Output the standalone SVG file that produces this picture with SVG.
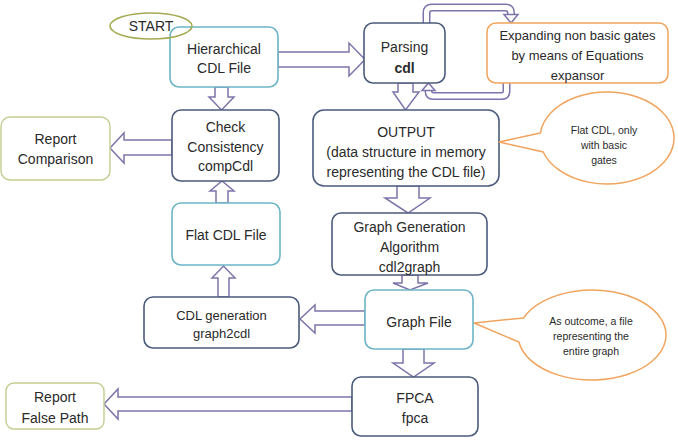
<svg xmlns="http://www.w3.org/2000/svg" width="678" height="440" viewBox="0 0 678 440">
<defs>
<style>
.box{fill:#fff;stroke:#4a5b7b;stroke-width:1.6}
.teal{fill:#fff;stroke:#6bb5c6;stroke-width:1.6}
.olive{fill:#fff;stroke:#c6cc90;stroke-width:1.4}
.orange{fill:#fff;stroke:#f0a45e;stroke-width:1.5}
.arr{fill:#fff;stroke:#7f74aa;stroke-width:1.5;stroke-linejoin:miter}
.loopo{fill:none;stroke:#7f74aa;stroke-width:8}
.loopi{fill:none;stroke:#fff;stroke-width:5}
text{font-family:"Liberation Sans",Arial,sans-serif;fill:#2a2a2a;text-anchor:middle}
.t14{font-size:14px}
.t13{font-size:13px}
.t11{font-size:10.5px}
</style>
</defs>
<rect width="678" height="440" fill="#fff"/>
<g id="connectors">
<polygon class="arr" points="278,52 349,52 349,43 365,59.5 349,76 349,67 278,67"/>
<polygon class="arr" points="215,87 228,87 228,97 234,97 221.5,110 209,97 215,97"/>
<polygon class="arr" points="172,140 124,140 124,133 110,148 124,163 124,155 172,155"/>
<polygon class="arr" points="216,203 216,191 210,191 222,181 234,191 228,191 228,203"/>
<polygon class="arr" points="218,297 218,278 212,278 223.5,266 235,278 229,278 229,297"/>
<polygon class="arr" points="365,311 315,311 315,305 300,319 315,333 315,325 365,325"/>
<polygon class="arr" points="398,83 413,83 413,92 419,92 405.5,110 393,92 398,92"/>
<polygon class="arr" points="397,186 419,186 419,198 430,198 408,213 385,198 397,198"/>
<polygon class="arr" points="402,275 418,275 418,283 428,283 410,290 393,283 402,283"/>
<polygon class="arr" points="403,349 424,349 424,363 434,363 413.5,377 393,363 403,363"/>
<polygon class="arr" points="352,397 118,397 118,389 104,404 118,419 118,411 352,411"/>
<path class="loopo" d="M426.5 23 V13 Q426.5 7.5 432 7.5 H505.5 Q511 7.5 511 13 V15"/>
<path class="loopi" d="M426.5 23 V13 Q426.5 7.5 432 7.5 H505.5 Q511 7.5 511 13 V16"/>
<polygon class="arr" points="504,14.5 518,14.5 511,23"/>
<path class="loopo" d="M506.5 83 V91 Q506.5 96 501.5 96 H433.5 Q428.5 96 428.5 91 V90"/>
<path class="loopi" d="M506.5 83 V91 Q506.5 96 501.5 96 H433.5 Q428.5 96 428.5 91 V89"/>
<polygon class="arr" points="422,90.5 435,90.5 428.5,83"/>
</g>
<g id="hierarchical">
<rect class="teal" x="170" y="27" width="108" height="60" rx="9"/>
<text class="t14" x="224" y="54">Hierarchical</text>
<text class="t14" x="224" y="73">CDL File</text>
</g>
<g id="start">
<ellipse cx="151" cy="26" rx="41" ry="13" fill="none" stroke="#a4aa50" stroke-width="1.6"/>
<text class="t14" x="151" y="31">START</text>
</g>
<g id="parsing">
<rect class="box" x="364" y="23" width="81" height="60" rx="9"/>
<text class="t14" x="404.5" y="52">Parsing</text>
<text class="t14" x="404.5" y="73" font-weight="bold">cdl</text>
</g>
<g id="expanding">
<rect class="orange" x="487" y="23" width="181" height="60" rx="9"/>
<text class="t13" x="577.5" y="39.5">Expanding non basic gates</text>
<text class="t13" x="577.5" y="59.5">by means of Equations</text>
<text class="t13" x="577.5" y="79.5">expansor</text>
</g>
<g id="check">
<rect class="box" x="172" y="110" width="107" height="71" rx="9"/>
<text class="t14" x="225.5" y="132">Check</text>
<text class="t14" x="225.5" y="152">Consistency</text>
<text class="t14" x="225.5" y="171">compCdl</text>
</g>
<g id="report-comparison">
<rect class="olive" x="1" y="117" width="109" height="63" rx="9"/>
<text class="t14" x="55.5" y="144">Report</text>
<text class="t14" x="55.5" y="164">Comparison</text>
</g>
<g id="output">
<rect class="box" x="313" y="110" width="186" height="76" rx="11"/>
<text class="t14" x="406" y="137">OUTPUT</text>
<text class="t14" x="406" y="157">(data structure in memory</text>
<text class="t14" x="406" y="177">representing the CDL file)</text>
</g>
<g id="callout-flat">
<path class="orange" d="M540.4 133 L499 142 L543.2 152 A67 46 0 1 0 540.4 133 Z"/>
<text class="t11" x="604" y="134">Flat CDL, only</text>
<text class="t11" x="604" y="149">with basic</text>
<text class="t11" x="604" y="164">gates</text>
</g>
<g id="flat-cdl">
<rect class="teal" x="172" y="203" width="108" height="62" rx="9"/>
<text class="t14" x="226" y="240">Flat CDL File</text>
</g>
<g id="graph-generation">
<rect class="box" x="332" y="213" width="155" height="62" rx="9"/>
<text class="t14" x="409.5" y="232">Graph Generation</text>
<text class="t14" x="409.5" y="252">Algorithm</text>
<text class="t14" x="409.5" y="272">cdl2graph</text>
</g>
<g id="cdl-generation">
<rect class="box" x="144" y="297" width="155" height="51" rx="9"/>
<text class="t13" x="221.5" y="320">CDL generation</text>
<text class="t13" x="221.5" y="338">graph2cdl</text>
</g>
<g id="graph-file">
<rect class="teal" x="365" y="290" width="108" height="59" rx="9"/>
<text class="t14" x="419" y="327">Graph File</text>
</g>
<g id="callout-graph">
<path class="orange" d="M523.5 318 L474 323 L518.9 342 A74 45 0 1 0 523.5 318 Z"/>
<text class="t11" x="591" y="325">As outcome, a file</text>
<text class="t11" x="591" y="340">representing the</text>
<text class="t11" x="591" y="355">entire graph</text>
</g>
<g id="fpca">
<rect class="box" x="352" y="377" width="126" height="59" rx="9"/>
<text class="t14" x="415" y="403">FPCA</text>
<text class="t14" x="415" y="423">fpca</text>
</g>
<g id="report-false-path">
<rect class="olive" x="6" y="383" width="98" height="46" rx="8"/>
<text class="t14" x="55" y="402">Report</text>
<text class="t14" x="55" y="423">False Path</text>
</g>
</svg>
